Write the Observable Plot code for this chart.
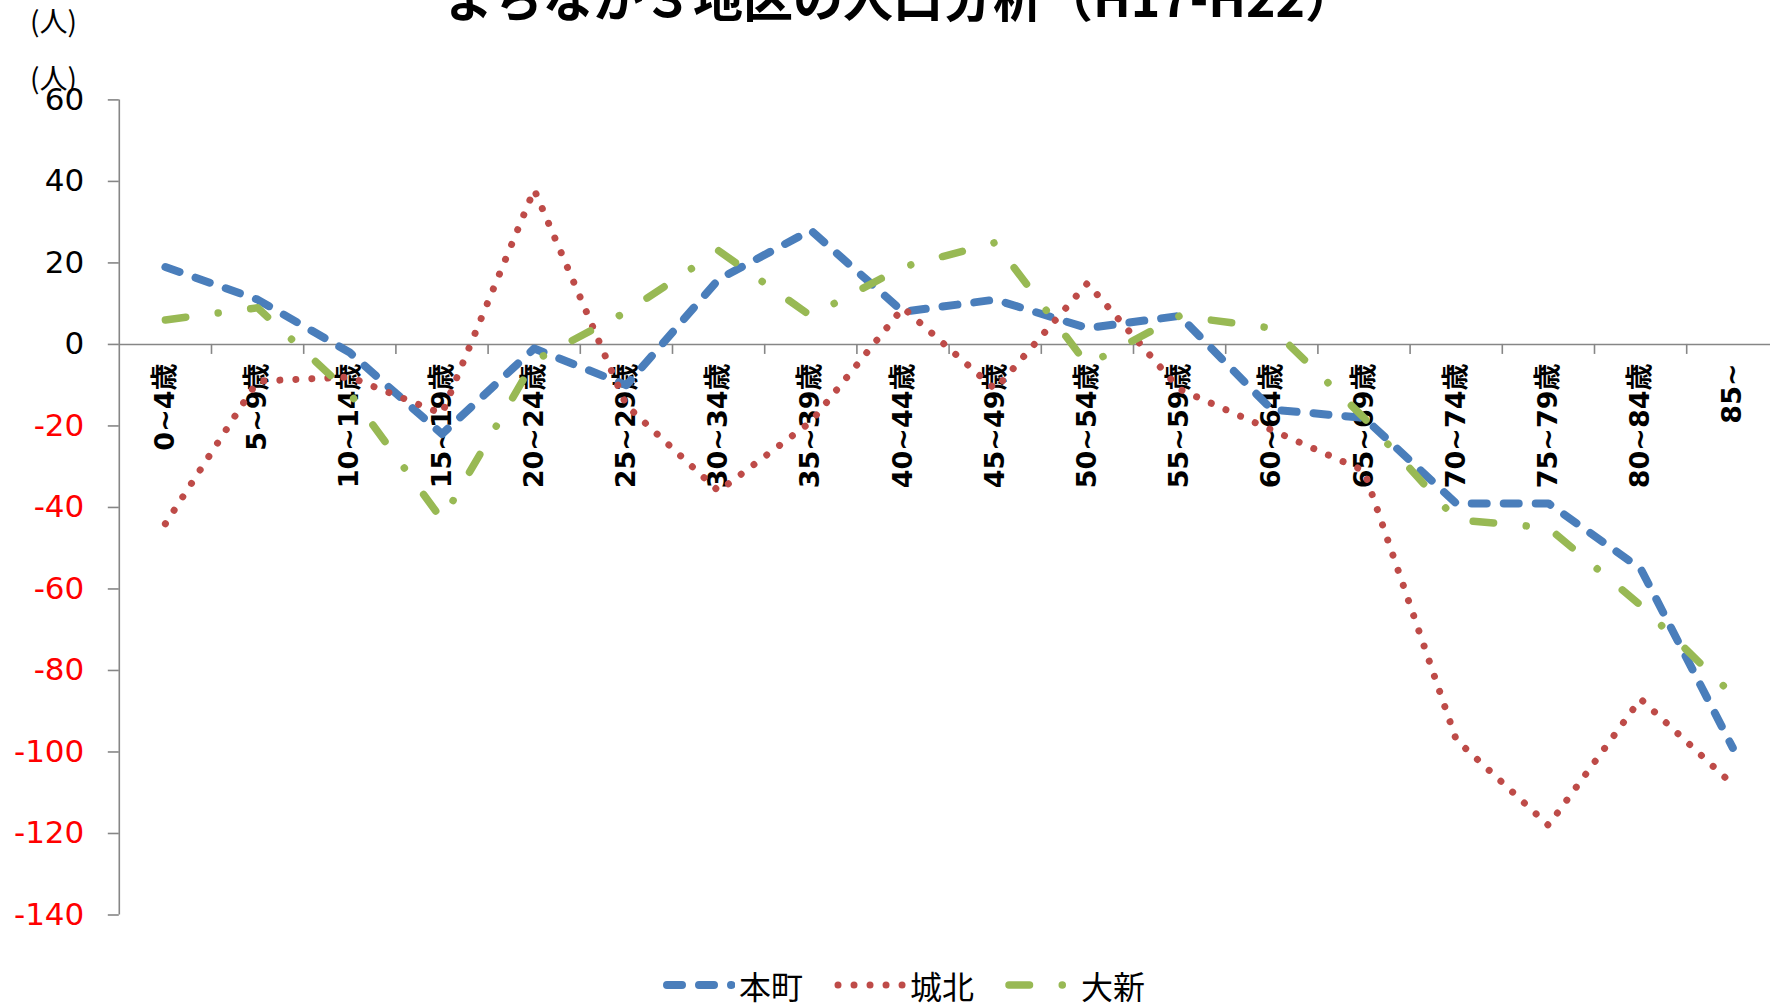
<!DOCTYPE html>
<html><head><meta charset="utf-8">
<script src="https://cdn.jsdelivr.net/npm/d3@7"></script>
<script src="https://cdn.jsdelivr.net/npm/@observablehq/plot@0.6"></script>
<style>
html,body{margin:0;padding:0;background:#fff;}
#wrap{position:relative;width:1770px;height:1004px;overflow:hidden;font-family:"Noto Sans CJK JP","Noto Sans",sans-serif;color:#000;}
#chart{position:absolute;left:0;top:0;}
#title{position:absolute;left:14px;width:1770px;top:-30px;text-align:center;font-size:50px;font-weight:bold;line-height:50px;white-space:nowrap;}
.unit{position:absolute;left:30px;font-size:28px;line-height:28px;white-space:nowrap;}
#legend{position:absolute;top:965px;left:663px;display:flex;align-items:center;font-size:32px;line-height:40px;white-space:nowrap;}
.item{display:flex;align-items:center;margin-right:31px;}
.item span{margin-left:4px;}
</style></head><body>
<div id="wrap">
  <div id="chart"></div>
  <div id="title"></div>
  <div class="unit" id="unit1" style="top:6px"></div>
  <div class="unit" id="unit2" style="top:63px"></div>
  <div id="legend"></div>
</div>
<script>
// ---- data ----
const titleText = "まちなか３地区の人口分析（H17-H22）";
const unitLabel = "(人)";
const ageGroups = ["0~4歳","5~9歳","10~14歳","15~19歳","20~24歳","25~29歳","30~34歳","35~39歳","40~44歳","45~49歳","50~54歳","55~59歳","60~64歳","65~69歳","70~74歳","75~79歳","80~84歳","85~"];
const honmachi = [19, 11, -2, -22, -1, -10, 16, 28, 8, 11, 4, 7, -16, -18, -39, -39, -55, -99];
const johoku   = [-44, -9, -8, -17, 38, -15, -36, -19, 9, -11, 15, -11, -21, -31, -97, -118, -87, -108];
const daishin  = [6, 9, -12, -43, -4, 8, 23, 7, 19, 25, -5, 7, 4, -18, -43, -45, -64, -86];
const seriesNames = ["本町", "城北", "大新"];
const yTicksPos = [0, 20, 40, 60];
const yTicksNeg = [-20, -40, -60, -80, -100, -120, -140];

// ---- styles ----
const styles = {
  "本町": {stroke: "#4A7EBB", width: 8, dash: "15,17"},
  "城北": {stroke: "#BE4B48", width: 7, dash: "0.01,16"},
  "大新": {stroke: "#98B954", width: 7.5, dash: "20.5,32.75,0.01,32.75"}
};
const axisGray = "#868686";
const numFont = "'DejaVu Sans', Verdana, sans-serif";
const labelFont = "'DejaVu Sans', 'Noto Sans CJK JP', sans-serif";

const seriesValues = [honmachi, johoku, daishin];
const rows = seriesNames.map((name, s) =>
  seriesValues[s].map((v, i) => ({series: name, i, age: ageGroups[i], value: v})));
const ageIdx = ageGroups.map((a, i) => ({age: a, i}));
const bounds = d3.range(ageGroups.length - 1).map(i => i + 0.5);
const yMin = d3.min(yTicksNeg), yMax = d3.max(yTicksPos);

const W = 1770, H = 955;
const chart = Plot.plot({
  width: W, height: H,
  marginLeft: 118.8, marginRight: 0, marginTop: 99.4, marginBottom: H - 914.5,
  style: {fontFamily: labelFont, background: "white", overflow: "hidden"},
  x: {type: "linear", domain: [-0.5, ageGroups.length - 0.5], range: [118.8, 118.8 + 92.2 * ageGroups.length], axis: null},
  y: {domain: [yMin, yMax], range: [914.5, 99.4]},
  marks: [
    Plot.ruleY([0], {stroke: axisGray, strokeWidth: 1.6}),
    Plot.ruleX([-0.5], {y1: yMin, y2: yMax, stroke: axisGray, strokeWidth: 1.6}),
    Plot.ruleX(bounds, {y1: 0, y2: 0, insetBottom: -10, stroke: axisGray, strokeWidth: 1.6}),
    Plot.axisY(yTicksPos, {anchor: "left", label: null, tickSize: 11, tickPadding: 24, stroke: axisGray, strokeWidth: 1.6, fill: "#000", fontSize: 31, fontFamily: numFont, tickFormat: d => `${d}`}),
    Plot.axisY(yTicksNeg, {anchor: "left", label: null, tickSize: 11, tickPadding: 24, stroke: axisGray, strokeWidth: 1.6, fill: "#FF0000", fontSize: 31, fontFamily: numFont, tickFormat: d => `${d}`}),
    Plot.text(ageIdx, {x: "i", y: () => 0, text: "age", rotate: -90, textAnchor: "end", lineAnchor: "middle", dy: 19, fontWeight: "bold", fontSize: 27, fill: "#000", fontFamily: labelFont}),
    ...rows.map(r => {
      const st = styles[r[0].series];
      return Plot.line(r, {x: "i", y: "value", stroke: st.stroke, strokeWidth: st.width, strokeDasharray: st.dash, strokeLinecap: "round", strokeLinejoin: "round"});
    })
  ]
});
document.getElementById("chart").appendChild(chart);
document.getElementById("title").textContent = titleText;
document.getElementById("unit1").textContent = unitLabel;
document.getElementById("unit2").textContent = unitLabel;

// legend
const legend = d3.select("#legend");
seriesNames.forEach(name => {
  const st = styles[name];
  const item = legend.append("div").attr("class", "item");
  const svg = item.append("svg").attr("width", 72).attr("height", 20);
  svg.append("line").attr("x1", 4).attr("x2", 68.5).attr("y1", 10).attr("y2", 10)
    .attr("stroke", st.stroke).attr("stroke-width", st.width).attr("stroke-dasharray", st.dash)
    .attr("stroke-linecap", "round");
  item.append("span").text(name);
});
</script>
</body></html>
